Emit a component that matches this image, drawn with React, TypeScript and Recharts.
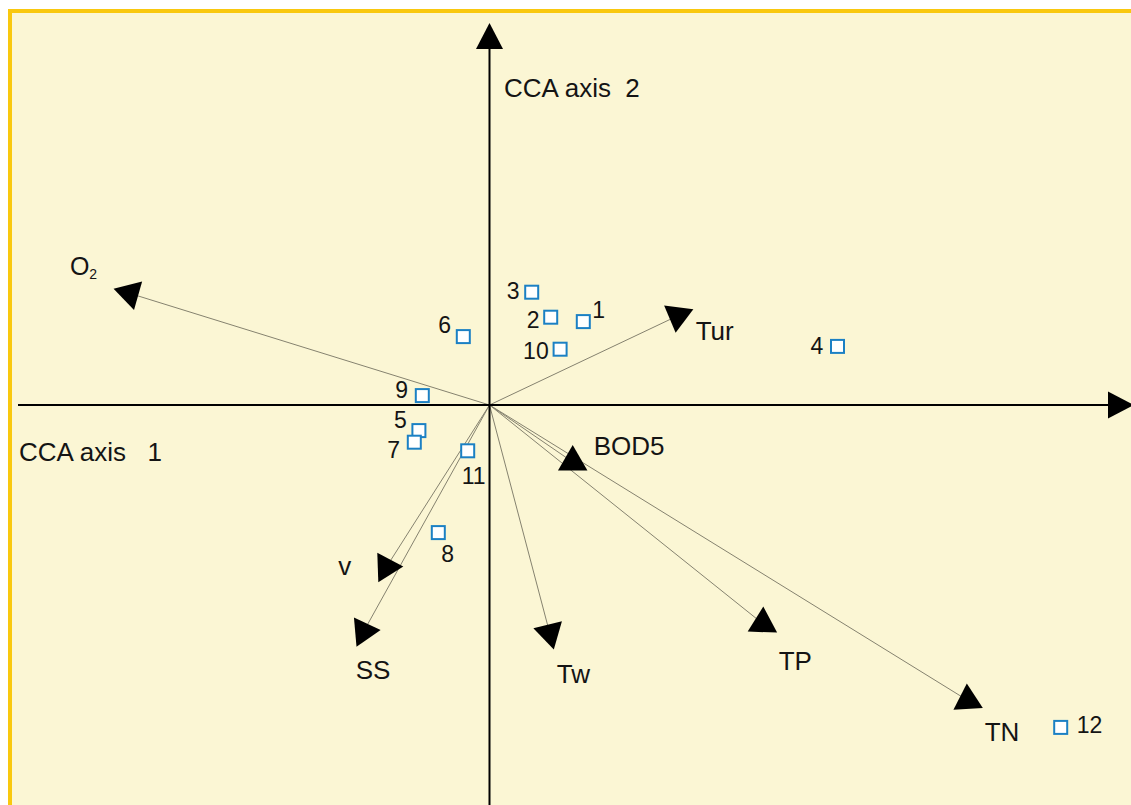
import { ScatterChart, Scatter, XAxis, YAxis, ReferenceLine } from 'recharts';

// CCA biplot: sampling sites (squares) and environmental variables (arrows)
const siteIds = ['1', '2', '3', '4', '5', '6', '7', '8', '9', '10', '11', '12'];
const siteAxis1 = [0.469, 0.306, 0.211, 1.74, -0.353, -0.131, -0.376, -0.256, -0.336, 0.353, -0.109, 2.856];
const siteAxis2 = [0.417, 0.439, 0.564, 0.293, -0.128, 0.342, -0.186, -0.638, 0.047, 0.279, -0.229, -1.612];

const envVars = ['O2', 'Tur', 'BOD5', 'TP', 'TN', 'Tw', 'SS', 'v'];
const envAxis1 = [-1.798, 0.941, 0.416, 1.366, 2.391, 0.301, -0.629, -0.516];
const envAxis2 = [0.558, 0.446, -0.285, -1.093, -1.477, -1.14, -1.132, -0.811];

const W = 1131;
const H = 805;
const X_DOMAIN: [number, number] = [-2.4475, 3.2075];
const Y_DOMAIN: [number, number] = [-2.0, 2.025];

const FONT = '"Liberation Sans", Arial, sans-serif';
const INK = '#141414';
const BLUE = '#1b80c4';

// label offsets (px from the mark centre to the text's left baseline)
const siteLabelOffset: Record<string, [number, number]> = {
  '1': [9, -4], '2': [-24, 11], '3': [-25, 7], '4': [-27, 8], '5': [-25, -3], '6': [-25, -4],
  '7': [-27, 16], '8': [3, 29], '9': [-27, 2], '10': [-37, 10], '11': [-6, 33], '12': [16, 6],
};
const envLabelOffset: Record<string, [number, number]> = {
  O2: [-60, -18], Tur: [18, 24], BOD5: [21, -7], TP: [16, 46], TN: [17, 41], Tw: [7, 50], SS: [-8, 48], v: [-48, 8],
};
// arrowhead rotation (deg) as drawn in the original figure
const envHeadAngle: Record<string, number> = {
  O2: 196, Tur: 97, BOD5: -90, TP: -88, TN: -93, Tw: 76, SS: -5, v: -2,
};

const siteData = siteIds.map((id, i) => ({ id, x: siteAxis1[i], y: siteAxis2[i] }));
const envData = envVars.map((name, i) => ({ name, x: envAxis1[i], y: envAxis2[i] }));
const axisHeads = [
  { x: 3.0925, y: 0, angle: 0 },
  { x: 0, y: 1.78, angle: -90 },
];

const renderSite = (props: any) => {
  const { cx, cy, payload } = props;
  const [dx, dy] = siteLabelOffset[payload.id];
  return (
    <g>
      <rect x={cx - 6.5} y={cy - 6.5} width={13} height={13} fill="#fff" stroke={BLUE} strokeWidth={2} />
      <text x={cx + dx} y={cy + dy} fontSize={23} fontFamily={FONT} fill={INK}>
        {payload.id}
      </text>
    </g>
  );
};

const renderEnvHead = (props: any) => {
  const { cx, cy, payload } = props;
  const a = (envHeadAngle[payload.name] * Math.PI) / 180;
  const r = 17;
  const pts = [0, 1, 2]
    .map((k) => {
      const t = a + (k * 2 * Math.PI) / 3;
      return `${cx + r * Math.cos(t)},${cy + r * Math.sin(t)}`;
    })
    .join(' ');
  const [dx, dy] = envLabelOffset[payload.name];
  return (
    <g>
      <polygon points={pts} fill="#000" />
      {payload.name === 'O2' ? (
        <text x={cx + dx} y={cy + dy} fontSize={25} fontFamily={FONT} fill={INK}>
          <tspan>O</tspan>
          <tspan fontSize={14} dy={4}>2</tspan>
        </text>
      ) : (
        <text x={cx + dx} y={cy + dy} fontSize={26} fontFamily={FONT} fill={INK}>
          {payload.name}
        </text>
      )}
    </g>
  );
};

const renderAxisHead = (props: any) => {
  const { cx, cy, payload } = props;
  return (
    <polygon
      points="0,-13.5 26,0 0,13.5"
      fill="#000"
      transform={`translate(${cx},${cy}) rotate(${payload.angle})`}
    />
  );
};

export default function App() {
  return (
    <div style={{ position: 'absolute', left: 0, top: 0, width: W, height: H, overflow: 'hidden' }}>
      <div
        style={{
          position: 'absolute',
          left: 8,
          top: 9,
          width: W - 8,
          height: H - 9,
          boxSizing: 'border-box',
          background: '#fbf6d4',
          borderLeft: '4px solid #f9c80e',
          borderTop: '4px solid #f9c80e',
        }}
      />
      <div style={{ position: 'absolute', left: 0, top: 0 }}>
        <ScatterChart width={W} height={H} margin={{ top: 0, right: 0, bottom: 0, left: 0 }}>
          <XAxis type="number" dataKey="x" domain={X_DOMAIN} allowDataOverflow hide />
          <YAxis type="number" dataKey="y" domain={Y_DOMAIN} allowDataOverflow hide />
          {envData.map((v) => (
            <ReferenceLine
              key={v.name}
              segment={[{ x: 0, y: 0 }, { x: v.x, y: v.y }]}
              stroke="#85826f"
              strokeWidth={1}
              ifOverflow="visible"
            />
          ))}
          <ReferenceLine segment={[{ x: -2.3575, y: 0 }, { x: 3.0925, y: 0 }]} stroke="#000" strokeWidth={2} ifOverflow="visible" />
          <ReferenceLine segment={[{ x: 0, y: -2.0 }, { x: 0, y: 1.78 }]} stroke="#000" strokeWidth={2} ifOverflow="visible" />
          <Scatter data={axisHeads} shape={renderAxisHead} isAnimationActive={false} />
          <Scatter data={envData} shape={renderEnvHead} isAnimationActive={false} />
          <Scatter data={siteData} shape={renderSite} isAnimationActive={false} />
          <text x={504} y={97} fontSize={26} fontFamily={FONT} fill={INK} style={{ whiteSpace: 'pre' }}>
            {'CCA axis  2'}
          </text>
          <text x={19} y={461} fontSize={26} fontFamily={FONT} fill={INK} style={{ whiteSpace: 'pre' }}>
            {'CCA axis   1'}
          </text>
        </ScatterChart>
      </div>
    </div>
  );
}
